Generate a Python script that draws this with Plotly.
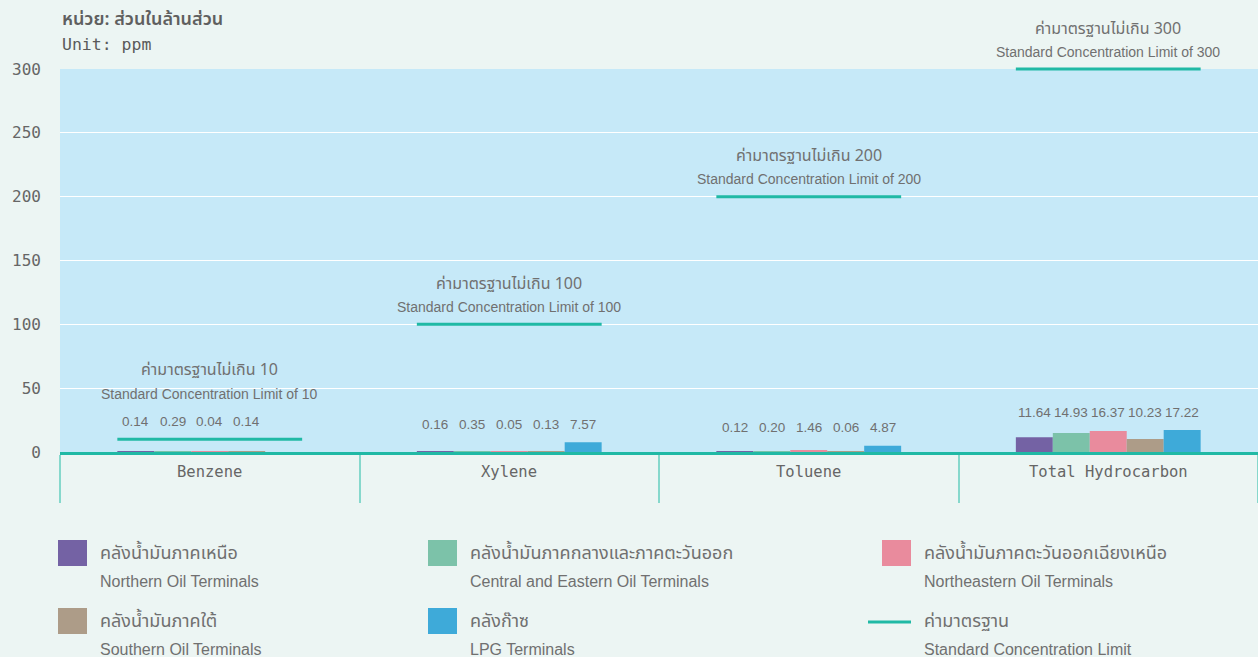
import plotly.graph_objects as go

# ---------------- data ----------------
categories = ["Benzene", "Xylene", "Toluene", "Total Hydrocarbon"]
series_th = ["คลังน้ำมันภาคเหนือ", "คลังน้ำมันภาคกลางและภาคตะวันออก", "คลังน้ำมันภาคตะวันออกเฉียงเหนือ",
             "คลังน้ำมันภาคใต้", "คลังก๊าซ"]
series_en = ["Northern Oil Terminals", "Central and Eastern Oil Terminals", "Northeastern Oil Terminals",
             "Southern Oil Terminals", "LPG Terminals"]
northern = [0.14, 0.16, 0.12, 11.64]
central_eastern = [0.29, 0.35, 0.20, 14.93]
northeastern = [0.04, 0.05, 1.46, 16.37]
southern = [0.14, 0.13, 0.06, 10.23]
lpg = [None, 7.57, 4.87, 17.22]
limits = [10, 100, 200, 300]
limit_th = "ค่ามาตรฐานไม่เกิน"
limit_en = "Standard Concentration Limit of"
limit_legend_th = "ค่ามาตรฐาน"
limit_legend_en = "Standard Concentration Limit"
y_ticks = [0, 50, 100, 150, 200, 250, 300]
unit_th = "หน่วย: ส่วนในล้านส่วน"
unit_en = "Unit: ppm"

# ---------------- styling ----------------
W, H = 1258, 657
L, R, T, B = 60, 0, 69, 205
PW, PH = W - L - R, H - T - B
BARGAP = 0.383
colors = ["#7462a4", "#7cc2a9", "#e98b9d", "#ad9c88", "#3eaad9"]
TEAL = "#20b9a5"
SEP = "#86d8cc"
TXT = "#707070"
MONO = "DejaVu Sans Mono, monospace"
SANS = "Liberation Sans, Arial, Noto Sans Thai, Noto Sans, sans-serif"
THAI = "Noto Sans Thai, Noto Sans Thai Looped, Liberation Sans, sans-serif"

series = [northern, central_eastern, northeastern, southern, lpg]
n_series = len(series)
ymax = max(y_ticks)


def px(x):
    return (x - L) / PW


def py(y):
    return (H - B - y) / PH


fig = go.Figure()
for k, vals in enumerate(series):
    fig.add_bar(x=categories, y=vals, name=series_en[k], marker_color=colors[k],
                marker_line_width=0, showlegend=False)

annotations = []
shapes = []

cat_px = PW / len(categories)
group_frac = 1 - BARGAP
bar_px = cat_px * group_frac / n_series

for i, cat in enumerate(categories):
    vals = [s[i] for s in series]
    present = [v for v in vals if v is not None]
    base = max(present)
    lifted = limits[i] < base + 20
    if lifted:
        base = limits[i]
    label_y = base + 14
    for k, v in enumerate(vals):
        if v is None:
            continue
        annotations.append(dict(x=cat, y=label_y, xref="x", yref="y", text=f"{v:.2f}",
                                showarrow=False, xshift=(k - (n_series - 1) / 2) * bar_px,
                                font=dict(family=SANS, size=13.5, color=TXT)))
    # standard limit line
    shapes.append(dict(type="line", xref="x", yref="paper",
                       x0=i - group_frac / 2, x1=i + group_frac / 2,
                       y0=limits[i] / ymax, y1=limits[i] / ymax,
                       line=dict(color=TEAL, width=3), layer="above"))
    if lifted:
        anchor, off_en, off_th = label_y, 27, 51
    else:
        anchor, off_en, off_th = limits[i], 17.5, 40.5
    annotations.append(dict(x=cat, y=anchor, xref="x", yref="y", text=f"{limit_en} {limits[i]}",
                            showarrow=False, yshift=off_en, yanchor="middle",
                            font=dict(family=SANS, size=14, color=TXT)))
    annotations.append(dict(x=cat, y=anchor, xref="x", yref="y", text=f"{limit_th} {limits[i]}",
                            showarrow=False, yshift=off_th, yanchor="middle",
                            font=dict(family=THAI, size=16, color=TXT)))
    # category label (between the separator ticks)
    annotations.append(dict(x=cat, y=py(472), xref="x", yref="paper", text=cat, showarrow=False,
                            yanchor="middle", font=dict(family=MONO, size=15.5, color="#666")))

# unit title
annotations.append(dict(x=px(60), y=py(19), xref="paper", yref="paper", text=unit_th,
                        showarrow=False, xanchor="left", yanchor="middle",
                        font=dict(family=THAI, size=18, color="#5f5f5f", weight=600)))
annotations.append(dict(x=px(60), y=py(44), xref="paper", yref="paper", text=unit_en,
                        showarrow=False, xanchor="left", yanchor="middle",
                        font=dict(family=MONO, size=16.5, color="#5a5a5a")))

# manual legend
col_x = [58, 428, 882]
row_y = [553, 621]
entries = list(range(n_series)) + ["limit"]
for idx, e in enumerate(entries):
    cx = col_x[idx % 3]
    ry = row_y[idx // 3]
    if e == "limit":
        shapes.append(dict(type="line", xref="paper", yref="paper", x0=px(cx - 14), x1=px(cx + 29),
                           y0=py(ry + 1), y1=py(ry + 1), line=dict(color=TEAL, width=3)))
        th, en = limit_legend_th, limit_legend_en
    else:
        shapes.append(dict(type="rect", xref="paper", yref="paper", x0=px(cx), x1=px(cx + 29),
                           y0=py(ry - 13), y1=py(ry + 13), fillcolor=colors[e], line=dict(width=0)))
        th, en = series_th[e], series_en[e]
    annotations.append(dict(x=px(cx + 40), y=py(ry), xref="paper", yref="paper", text=th,
                            showarrow=False, xanchor="left", yanchor="middle",
                            font=dict(family=THAI, size=18, color=TXT)))
    annotations.append(dict(x=px(cx + 40), y=py(ry + 28), xref="paper", yref="paper", text=en,
                            showarrow=False, xanchor="left", yanchor="middle",
                            font=dict(family=SANS, size=16, color=TXT)))

fig.update_layout(
    width=W, height=H,
    margin=dict(l=L, r=R, t=T, b=B, pad=0),
    paper_bgcolor="#ecf5f3",
    plot_bgcolor="#c6e9f8",
    barmode="group", bargap=BARGAP, bargroupgap=0,
    showlegend=False,
    annotations=annotations,
    shapes=shapes,
    xaxis=dict(type="category", showgrid=False, showline=True, linecolor=TEAL, linewidth=3,
               ticks="outside", tickson="boundaries", ticklen=48, tickcolor=SEP, tickwidth=1.5,
               showticklabels=False, fixedrange=True),
    yaxis=dict(range=[0, ymax], tickvals=y_ticks, showgrid=True, gridcolor="white", gridwidth=1,
               zeroline=False, showline=False, ticks="", ticklabelstandoff=18,
               tickfont=dict(family=MONO, size=16, color="#666"), fixedrange=True),
)

fig.write_html("out.html", config={"displayModeBar": False},
               post_script="document.body.style.margin='0';document.body.style.background='#ecf5f3';")
